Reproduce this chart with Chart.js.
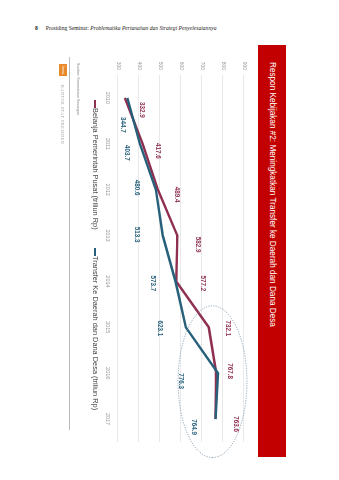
<!DOCTYPE html>
<html><head><meta charset="utf-8">
<script src="https://cdn.jsdelivr.net/npm/chart.js@4.4.0/dist/chart.umd.min.js"></script>
<style>
html,body{margin:0;padding:0;background:#fff;width:339px;height:480px;overflow:hidden;}
body{position:relative;font-family:"Liberation Sans",Arial,sans-serif;}
#hdr{position:absolute;left:35px;top:25px;font-family:"Liberation Serif",serif;font-size:5.6px;color:#222;white-space:nowrap;line-height:7px}
#hdr b{margin-right:8px}
#rot{position:absolute;left:0;top:0;width:420px;height:230px;transform-origin:0 0;transform:translate(286px,45px) rotate(90deg);}
#bar{position:absolute;left:0;top:0;width:412px;height:28px;background:#c30000;}
#title{position:absolute;left:17px;top:0;line-height:28px;color:#fff;font-size:8.2px;white-space:nowrap}
#cv{position:absolute;left:0;top:28px}
#legend{position:absolute;top:186px;left:0;height:10px;font-size:7.4px;color:#444;white-space:nowrap}
.li{position:absolute;top:0;line-height:10px}
.mk{position:absolute;top:4px;height:2px;width:8px}
#src{position:absolute;left:18px;top:206px;font-size:3.6px;color:#888;white-space:nowrap;line-height:5px}
#sep{position:absolute;left:12px;top:216px;width:373px;height:0;border-top:0.7px solid #bbb}
#logo{position:absolute;left:19px;top:219px;width:12px;height:8px;background:#e8892b;color:#fff;font-size:3px;line-height:8px;text-align:center}
#ksp{position:absolute;left:40px;top:221px;font-family:"Liberation Serif",serif;font-size:4px;letter-spacing:0.6px;color:#999;white-space:nowrap;line-height:6px}
</style></head>
<body>
<div id="hdr"><b>8</b>Prosiding Seminar: <i>Problematika Pertanahan dan Strategi Penyelesaiannya</i></div>
<div id="rot">
  <div id="bar"><div id="title">Respon Kebijakan #2: Meningkatkan Transfer ke Daerah dan Dana Desa</div></div>
  <canvas id="cv" width="420" height="162" style="width:420px;height:162px"></canvas>
  <div id="legend"></div>
  <div id="src">Sumber: Kementerian Keuangan</div>
  <div id="sep"></div>
  <div id="logo">Lensa</div>
  <div id="ksp">KANTOR STAF PRESIDEN</div>
</div>
<script>
const years = ['2010','2011','2012','2013','2014','2015','2016','2017'];
const belanjaPusat = [332.9, 417.6, 489.4, 582.9, 577.2, 732.1, 767.8, 763.6];
const transferDaerah = [344.7, 403.7, 480.6, 513.3, 573.7, 623.1, 776.3, 764.9];
const valueTicks = [300, 400, 500, 600, 700, 800, 900];
const seriesNames = ['Belanja Pemerintah Pusat (triliun Rp)', 'Transfer Ke Daerah dan Dana Desa (triliun Rp)'];

const RED = '#8f2f52', BLUE = '#26607a';

// label nudges (pixels: right, up) per point, styling only
const labelNudge = [
  [[12,17],[7,15],[5,19],[9,20],[2,27],[1,19],[-2,14],[5,20]],
  [[27,-5],[9,-13],[-2,-19],[-1,-26],[2,-23],[1,-26],[8,-37],[8,-22]]
];

const labelPlugin = {
  id: 'valueLabels',
  afterDatasetsDraw(chart) {
    const ctx = chart.ctx;
    ctx.save();
    ctx.font = 'bold 6.3px "Liberation Sans", Arial, sans-serif';
    ctx.textAlign = 'center';
    ctx.textBaseline = 'middle';
    chart.data.datasets.forEach((ds, di) => {
      const meta = chart.getDatasetMeta(di);
      ctx.fillStyle = ds.borderColor;
      meta.data.forEach((pt, i) => {
        const n = labelNudge[di][i];
        ctx.fillText(ds.data[i].toFixed(1), pt.x + n[0], pt.y - n[1]);
      });
    });
    ctx.restore();
  }
};

const ellipsePlugin = {
  id: 'ellipse',
  afterDatasetsDraw(chart) {
    const xs = chart.scales.x, ys = chart.scales.y;
    const x1 = xs.getPixelForValue(4.53), x2 = xs.getPixelForValue(7.84);
    const y1 = ys.getPixelForValue(586), y2 = ys.getPixelForValue(914);
    const ctx = chart.ctx;
    ctx.save();
    ctx.strokeStyle = '#7390a8';
    ctx.lineWidth = 0.8;
    ctx.setLineDash([1.2, 1.3]);
    ctx.beginPath();
    ctx.ellipse((x1+x2)/2, (y1+y2)/2, Math.abs(x2-x1)/2, Math.abs(y2-y1)/2, 0, 0, Math.PI*2);
    ctx.stroke();
    ctx.restore();
  }
};

const chart = new Chart(document.getElementById('cv'), {
  type: 'line',
  data: {
    labels: years,
    datasets: [
      { label: seriesNames[0], data: belanjaPusat, borderColor: RED, backgroundColor: RED, borderWidth: 2.4, pointRadius: 0, tension: 0, order: 1 },
      { label: seriesNames[1], data: transferDaerah, borderColor: BLUE, backgroundColor: BLUE, borderWidth: 2.4, pointRadius: 0, tension: 0, order: 0 }
    ]
  },
  options: {
    responsive: false,
    animation: false,
    devicePixelRatio: 1,
    layout: { padding: { top: 14, right: 23, left: 0, bottom: 0 } },
    plugins: { legend: { display: false }, tooltip: { enabled: false } },
    scales: {
      x: {
        type: 'category',
        offset: true,
        grid: { display: false, drawTicks: false },
        border: { display: false },
        ticks: { color: '#999', font: { size: 5.5, family: '"Liberation Sans", Arial, sans-serif' }, padding: 7, maxRotation: 0, autoSkip: false },
        afterFit(s) { s.height = 22; }
      },
      y: {
        min: valueTicks[0],
        max: valueTicks[valueTicks.length - 1],
        afterBuildTicks(s) { s.ticks = valueTicks.map(v => ({ value: v })); },
        grid: { color: '#e3e3e3', lineWidth: 0.8, drawTicks: false },
        border: { display: false },
        ticks: { color: '#999', font: { size: 5, family: '"Liberation Sans", Arial, sans-serif' }, padding: 5 },
        afterFit(s) { s.width = 30; }
      }
    }
  },
  plugins: [ellipsePlugin, labelPlugin]
});

// HTML legend built from the series names / colours
const lg = document.getElementById('legend');
const legendStarts = [55, 203];
chart.data.datasets.forEach((ds, i) => {
  const mk = document.createElement('div');
  mk.className = 'mk';
  mk.style.left = legendStarts[i] + 'px';
  mk.style.background = ds.borderColor;
  lg.appendChild(mk);
  const t = document.createElement('div');
  t.className = 'li';
  t.style.left = (legendStarts[i] + 8) + 'px';
  t.textContent = ds.label;
  lg.appendChild(t);
});
</script>
</body></html>
